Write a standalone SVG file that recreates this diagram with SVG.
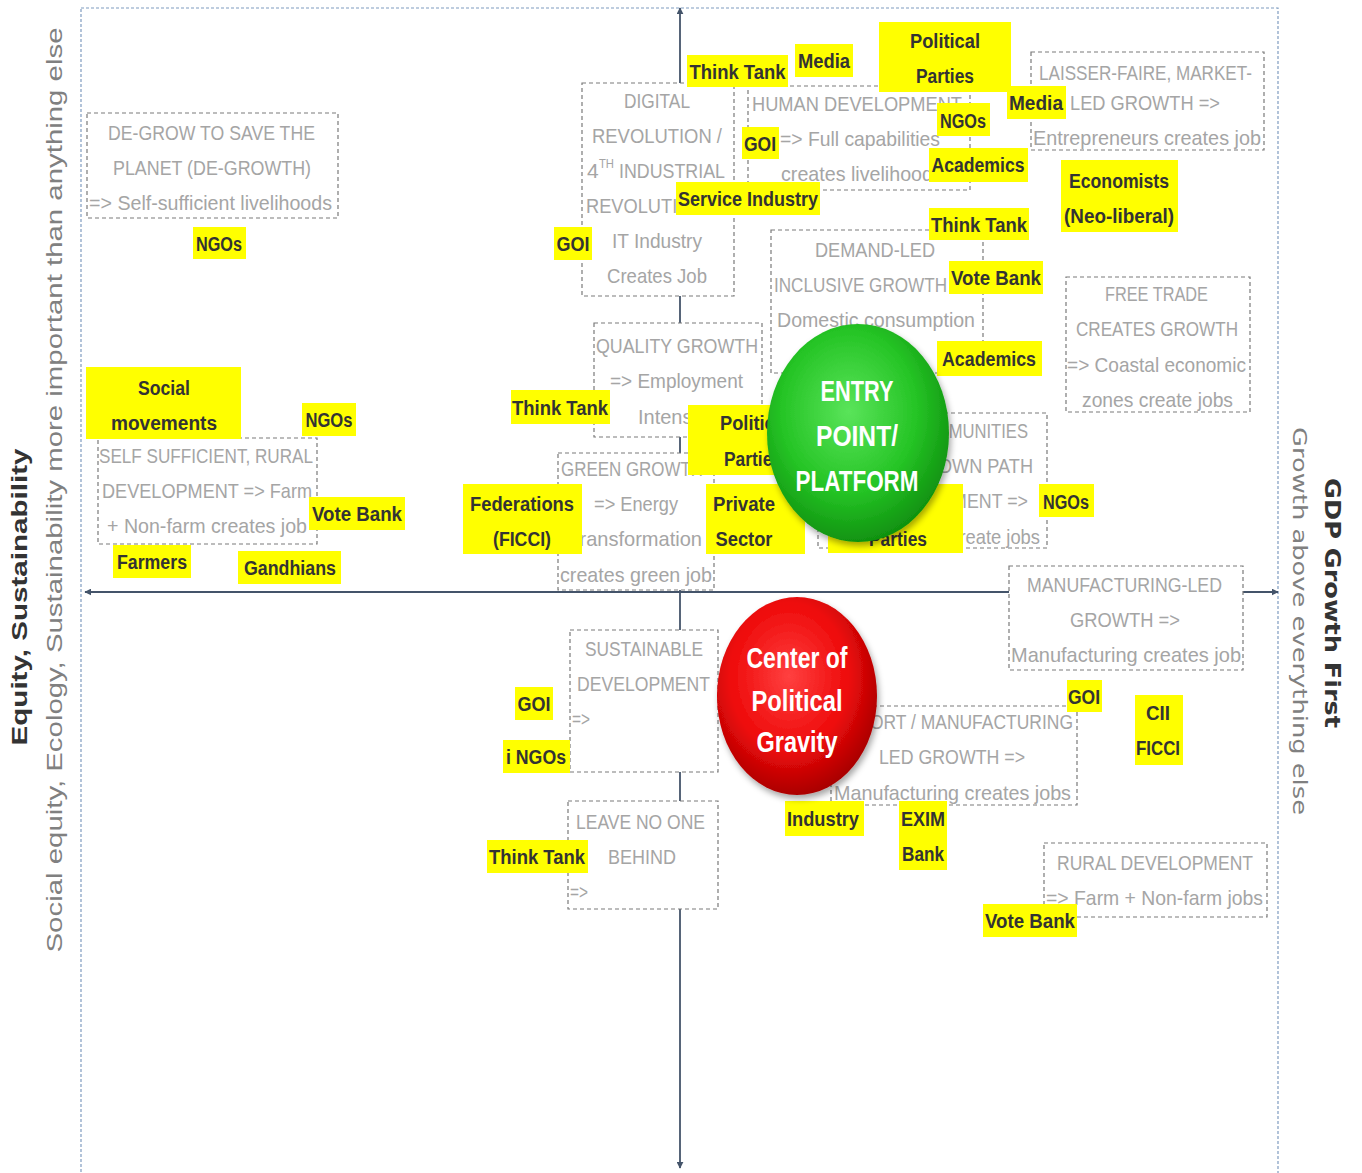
<svg xmlns="http://www.w3.org/2000/svg" width="1362" height="1173" viewBox="0 0 1362 1173">
<style>
.bx{fill:#fff;stroke:#7a7a7a;stroke-width:1.2;stroke-dasharray:4 3}
.bt{font-family:"Liberation Sans",Arial,sans-serif;font-size:21px;fill:#a5a5a5}
.sup{font-size:12px}
.lb{fill:#ffff00}
.lt{font-family:"Liberation Sans",Arial,sans-serif;font-size:20px;font-weight:bold;fill:#333}
.ct{font-family:"Liberation Sans",Arial,sans-serif;font-size:30px;font-weight:bold;fill:#fff}
.ax{stroke:#44546a;stroke-width:1.8;fill:none}
</style>
<defs>
<marker id="ah" viewBox="0 0 10 10" refX="9" refY="5" markerWidth="7" markerHeight="7" orient="auto-start-reverse" markerUnits="userSpaceOnUse">
<path d="M0,0 L10,5 L0,10 z" fill="#44546a"/>
</marker>
<radialGradient id="gg" cx="0.45" cy="0.4" r="0.62">
<stop offset="0" stop-color="#5ae45a"/><stop offset="0.6" stop-color="#25c425"/><stop offset="1" stop-color="#0f8f0f"/>
</radialGradient>
<radialGradient id="rg" cx="0.45" cy="0.4" r="0.62">
<stop offset="0" stop-color="#ff4040"/><stop offset="0.6" stop-color="#ee0a0a"/><stop offset="1" stop-color="#a50000"/>
</radialGradient>
<filter id="sh" x="-20%" y="-20%" width="140%" height="140%">
<feDropShadow dx="2" dy="4" stdDeviation="3" flood-color="#000" flood-opacity="0.35"/>
</filter>
</defs>
<rect width="1362" height="1173" fill="#fff"/>
<rect x="81" y="8" width="1197" height="1190" fill="none" stroke="#7f9cc0" stroke-width="1.2" stroke-dasharray="3 2"/>

<g id="axis-titles">
<text transform="translate(27,597) rotate(-90)" x="-148.5" y="0" textLength="297" lengthAdjust="spacingAndGlyphs" font-family="Liberation Sans, Arial, sans-serif" font-size="22" font-weight="bold" fill="#333">Equity, Sustainability</text>
<text transform="translate(62,490) rotate(-90)" x="-462.5" y="0" textLength="925" lengthAdjust="spacingAndGlyphs" font-family="Liberation Sans, Arial, sans-serif" font-size="22" fill="#808080">Social equity, Ecology, Sustainability more important than anything else</text>
<text transform="translate(1325,603) rotate(90)" x="-125" y="0" textLength="250" lengthAdjust="spacingAndGlyphs" font-family="DejaVu Sans, Verdana, sans-serif" font-size="21" font-weight="bold" fill="#333">GDP Growth First</text>
<text transform="translate(1293,621) rotate(90)" x="-194" y="0" textLength="388" lengthAdjust="spacingAndGlyphs" font-family="DejaVu Sans, Verdana, sans-serif" font-size="20" fill="#808080">Growth above everything else</text>
</g>

<g id="connectors">
<line class="ax" x1="680" y1="1168" x2="680" y2="8" marker-start="url(#ah)" marker-end="url(#ah)"/>
<line class="ax" x1="85" y1="592" x2="1278" y2="592" marker-start="url(#ah)" marker-end="url(#ah)"/>
</g>

<g id="box-degrow">
<rect class="bx" x="87" y="113" width="251" height="105"/>
<text class="bt" x="108" y="140" textLength="207" lengthAdjust="spacingAndGlyphs">DE-GROW TO SAVE  THE</text>
<text class="bt" x="113" y="175" textLength="198" lengthAdjust="spacingAndGlyphs">PLANET (DE-GROWTH)</text>
<text class="bt" x="89" y="210" textLength="243" lengthAdjust="spacingAndGlyphs">=&gt; Self-sufficient livelihoods</text>
</g>

<g id="box-digital">
<rect class="bx" x="582" y="83" width="152" height="213"/>
<text class="bt" x="624" y="108" textLength="66" lengthAdjust="spacingAndGlyphs">DIGITAL</text>
<text class="bt" x="592" y="143" textLength="130" lengthAdjust="spacingAndGlyphs">REVOLUTION /</text>
<text class="bt" x="587" y="178">4</text>
<text class="bt sup" x="599" y="168" textLength="15" lengthAdjust="spacingAndGlyphs">TH</text>
<text class="bt" x="619" y="178" textLength="106" lengthAdjust="spacingAndGlyphs">INDUSTRIAL</text>
<text class="bt" x="586" y="213" textLength="145" lengthAdjust="spacingAndGlyphs">REVOLUTION =&gt;</text>
<text class="bt" x="612" y="248" textLength="90" lengthAdjust="spacingAndGlyphs">IT Industry</text>
<text class="bt" x="607" y="283" textLength="100" lengthAdjust="spacingAndGlyphs">Creates Job</text>
</g>

<g id="box-human">
<rect class="bx" x="748" y="86" width="222" height="104"/>
<text class="bt" x="752" y="111" textLength="210" lengthAdjust="spacingAndGlyphs">HUMAN DEVELOPMENT</text>
<text class="bt" x="780" y="146" textLength="160" lengthAdjust="spacingAndGlyphs">=&gt;  Full capabilities</text>
<text class="bt" x="781" y="181" textLength="152" lengthAdjust="spacingAndGlyphs">creates livelihood</text>
</g>

<g id="box-laisser">
<rect class="bx" x="1031" y="52" width="233" height="98"/>
<text class="bt" x="1039" y="80" textLength="213" lengthAdjust="spacingAndGlyphs">LAISSER-FAIRE, MARKET-</text>
<text class="bt" x="1070" y="110" textLength="150" lengthAdjust="spacingAndGlyphs">LED GROWTH  =&gt;</text>
<text class="bt" x="1033" y="145" textLength="228" lengthAdjust="spacingAndGlyphs">Entrepreneurs  creates job</text>
</g>

<g id="box-demand">
<rect class="bx" x="771" y="230" width="212" height="143"/>
<text class="bt" x="815" y="257" textLength="120" lengthAdjust="spacingAndGlyphs">DEMAND-LED</text>
<text class="bt" x="774" y="292" textLength="173" lengthAdjust="spacingAndGlyphs">INCLUSIVE GROWTH</text>
<text class="bt" x="777" y="327" textLength="198" lengthAdjust="spacingAndGlyphs">Domestic consumption</text>
</g>

<g id="box-free-trade">
<rect class="bx" x="1066" y="277" width="184" height="135"/>
<text class="bt" x="1105" y="301" textLength="103" lengthAdjust="spacingAndGlyphs">FREE TRADE</text>
<text class="bt" x="1076" y="336" textLength="162" lengthAdjust="spacingAndGlyphs">CREATES GROWTH</text>
<text class="bt" x="1067" y="372" textLength="179" lengthAdjust="spacingAndGlyphs">=&gt; Coastal economic</text>
<text class="bt" x="1082" y="407" textLength="151" lengthAdjust="spacingAndGlyphs">zones create jobs</text>
</g>

<g id="box-quality">
<rect class="bx" x="594" y="323" width="168" height="114"/>
<text class="bt" x="596" y="353" textLength="162" lengthAdjust="spacingAndGlyphs">QUALITY GROWTH</text>
<text class="bt" x="610" y="388" textLength="133" lengthAdjust="spacingAndGlyphs">=&gt; Employment</text>
<text class="bt" x="638" y="424" textLength="80" lengthAdjust="spacingAndGlyphs">Intensive</text>
</g>

<g id="box-self">
<rect class="bx" x="98" y="438" width="219" height="106"/>
<text class="bt" x="99" y="463" textLength="214" lengthAdjust="spacingAndGlyphs">SELF SUFFICIENT, RURAL</text>
<text class="bt" x="102" y="498" textLength="210" lengthAdjust="spacingAndGlyphs">DEVELOPMENT =&gt; Farm</text>
<text class="bt" x="107" y="533" textLength="200" lengthAdjust="spacingAndGlyphs">+ Non-farm creates job</text>
</g>

<g id="box-green">
<rect class="bx" x="558" y="453" width="156" height="137"/>
<text class="bt" x="561" y="476" textLength="142" lengthAdjust="spacingAndGlyphs">GREEN GROWTH</text>
<text class="bt" x="594" y="511" textLength="84" lengthAdjust="spacingAndGlyphs">=&gt; Energy</text>
<text class="bt" x="568" y="546" textLength="134" lengthAdjust="spacingAndGlyphs">Transformation</text>
<text class="bt" x="560" y="582" textLength="152" lengthAdjust="spacingAndGlyphs">creates green job</text>
</g>

<g id="box-communities">
<rect class="bx" x="818" y="413" width="229" height="135"/>
<text class="bt" x="910" y="438" textLength="118" lengthAdjust="spacingAndGlyphs">COMMUNITIES</text>
<text class="bt" x="938" y="473" textLength="95" lengthAdjust="spacingAndGlyphs">OWN PATH</text>
<text class="bt" x="868" y="508" textLength="160" lengthAdjust="spacingAndGlyphs">DEVELOPMENT =&gt;</text>
<text class="bt" x="838" y="544" textLength="202" lengthAdjust="spacingAndGlyphs">Communities create jobs</text>
</g>

<g id="box-manufacturing">
<rect class="bx" x="1009" y="566" width="234" height="104"/>
<text class="bt" x="1027" y="592" textLength="195" lengthAdjust="spacingAndGlyphs">MANUFACTURING-LED</text>
<text class="bt" x="1070" y="627" textLength="110" lengthAdjust="spacingAndGlyphs">GROWTH =&gt;</text>
<text class="bt" x="1011" y="662" textLength="230" lengthAdjust="spacingAndGlyphs">Manufacturing  creates job</text>
</g>

<g id="box-export">
<rect class="bx" x="831" y="706" width="246" height="99"/>
<text class="bt" x="835" y="729" textLength="238" lengthAdjust="spacingAndGlyphs">EXPORT / MANUFACTURING</text>
<text class="bt" x="879" y="764" textLength="146" lengthAdjust="spacingAndGlyphs">LED GROWTH =&gt;</text>
<text class="bt" x="834" y="800" textLength="237" lengthAdjust="spacingAndGlyphs">Manufacturing  creates jobs</text>
</g>

<g id="box-sustainable">
<rect class="bx" x="570" y="630" width="148" height="142"/>
<text class="bt" x="585" y="656" textLength="118" lengthAdjust="spacingAndGlyphs">SUSTAINABLE</text>
<text class="bt" x="577" y="691" textLength="133" lengthAdjust="spacingAndGlyphs">DEVELOPMENT</text>
<text class="bt" x="572" y="726" textLength="18" lengthAdjust="spacingAndGlyphs">=&gt;</text>
</g>

<g id="box-leave">
<rect class="bx" x="568" y="801" width="150" height="108"/>
<text class="bt" x="576" y="829" textLength="129" lengthAdjust="spacingAndGlyphs">LEAVE NO ONE</text>
<text class="bt" x="608" y="864" textLength="68" lengthAdjust="spacingAndGlyphs">BEHIND</text>
<text class="bt" x="570" y="899" textLength="18" lengthAdjust="spacingAndGlyphs">=&gt;</text>
</g>

<g id="box-rural">
<rect class="bx" x="1044" y="843" width="223" height="74"/>
<text class="bt" x="1057" y="870" textLength="196" lengthAdjust="spacingAndGlyphs">RURAL DEVELOPMENT</text>
<text class="bt" x="1046" y="905" textLength="217" lengthAdjust="spacingAndGlyphs">=&gt; Farm + Non-farm jobs</text>
</g>

<g id="label-thinktank-1"><rect class="lb" x="687" y="55" width="101" height="32"/><text class="lt" x="689.5" y="79" textLength="96" lengthAdjust="spacingAndGlyphs">Think Tank</text></g>
<g id="label-media-1"><rect class="lb" x="795" y="44" width="58" height="33"/><text class="lt" x="798" y="68" textLength="52" lengthAdjust="spacingAndGlyphs">Media</text></g>
<g id="label-parties-1"><rect class="lb" x="879" y="22" width="132" height="70"/><text class="lt" x="910" y="48" textLength="70" lengthAdjust="spacingAndGlyphs">Political</text><text class="lt" x="916" y="83" textLength="58" lengthAdjust="spacingAndGlyphs">Parties</text></g>
<g id="label-media-2"><rect class="lb" x="1007" y="86" width="59" height="33"/><text class="lt" x="1009" y="110" textLength="54" lengthAdjust="spacingAndGlyphs">Media</text></g>
<g id="label-ngos-1"><rect class="lb" x="937" y="103" width="53" height="33"/><text class="lt" x="940" y="128" textLength="46" lengthAdjust="spacingAndGlyphs">NGOs</text></g>
<g id="label-goi-1"><rect class="lb" x="742" y="127" width="37" height="32"/><text class="lt" x="744" y="151" textLength="32" lengthAdjust="spacingAndGlyphs">GOI</text></g>
<g id="label-academics-1"><rect class="lb" x="929" y="148" width="99" height="34"/><text class="lt" x="931.5" y="172" textLength="93" lengthAdjust="spacingAndGlyphs">Academics</text></g>
<g id="label-economists"><rect class="lb" x="1061" y="160" width="117" height="72"/><text class="lt" x="1069" y="188" textLength="100" lengthAdjust="spacingAndGlyphs">Economists</text><text class="lt" x="1064" y="223" textLength="110" lengthAdjust="spacingAndGlyphs">(Neo-liberal)</text></g>
<g id="label-service"><rect class="lb" x="676" y="182" width="144" height="33"/><text class="lt" x="678" y="206" textLength="140" lengthAdjust="spacingAndGlyphs">Service Industry</text></g>
<g id="label-thinktank-2"><rect class="lb" x="929" y="208" width="100" height="32"/><text class="lt" x="931" y="232" textLength="96" lengthAdjust="spacingAndGlyphs">Think Tank</text></g>
<g id="label-goi-2"><rect class="lb" x="554" y="227" width="38" height="33"/><text class="lt" x="556.5" y="251" textLength="33" lengthAdjust="spacingAndGlyphs">GOI</text></g>
<g id="label-ngos-2"><rect class="lb" x="193" y="227" width="53" height="32"/><text class="lt" x="196" y="251" textLength="46" lengthAdjust="spacingAndGlyphs">NGOs</text></g>
<g id="label-votebank-1"><rect class="lb" x="949" y="261" width="94" height="33"/><text class="lt" x="951" y="285" textLength="90" lengthAdjust="spacingAndGlyphs">Vote Bank</text></g>
<g id="label-academics-2"><rect class="lb" x="937" y="341" width="105" height="35"/><text class="lt" x="942" y="366" textLength="94" lengthAdjust="spacingAndGlyphs">Academics</text></g>
<g id="label-social"><rect class="lb" x="86" y="367" width="155" height="72"/><text class="lt" x="138" y="395" textLength="52" lengthAdjust="spacingAndGlyphs">Social</text><text class="lt" x="111" y="430" textLength="106" lengthAdjust="spacingAndGlyphs">movements</text></g>
<g id="label-ngos-3"><rect class="lb" x="302" y="403" width="54" height="33"/><text class="lt" x="305.5" y="427" textLength="47" lengthAdjust="spacingAndGlyphs">NGOs</text></g>
<g id="label-thinktank-3"><rect class="lb" x="511" y="390" width="99" height="34"/><text class="lt" x="512" y="415" textLength="96" lengthAdjust="spacingAndGlyphs">Think Tank</text></g>
<g id="label-parties-2"><rect class="lb" x="688" y="405" width="140" height="70"/><text class="lt" x="720" y="430" textLength="70" lengthAdjust="spacingAndGlyphs">Political</text><text class="lt" x="724" y="466" textLength="58" lengthAdjust="spacingAndGlyphs">Parties</text></g>
<g id="label-federations"><rect class="lb" x="463" y="484" width="119" height="70"/><text class="lt" x="470" y="511" textLength="104" lengthAdjust="spacingAndGlyphs">Federations</text><text class="lt" x="493" y="546" textLength="58" lengthAdjust="spacingAndGlyphs">(FICCI)</text></g>
<g id="label-private"><rect class="lb" x="706" y="484" width="99" height="70"/><text class="lt" x="713" y="511" textLength="62" lengthAdjust="spacingAndGlyphs">Private</text><text class="lt" x="715.5" y="546" textLength="57" lengthAdjust="spacingAndGlyphs">Sector</text></g>
<g id="label-parties-3"><rect class="lb" x="828" y="484" width="135" height="69"/><text class="lt" x="869" y="546" textLength="58" lengthAdjust="spacingAndGlyphs">Parties</text></g>
<g id="label-ngos-4"><rect class="lb" x="1039" y="484" width="55" height="33"/><text class="lt" x="1043" y="509" textLength="46" lengthAdjust="spacingAndGlyphs">NGOs</text></g>
<g id="label-votebank-2"><rect class="lb" x="309" y="497" width="96" height="33"/><text class="lt" x="312" y="521" textLength="90" lengthAdjust="spacingAndGlyphs">Vote Bank</text></g>
<g id="label-farmers"><rect class="lb" x="113" y="545" width="78" height="33"/><text class="lt" x="117" y="569" textLength="70" lengthAdjust="spacingAndGlyphs">Farmers</text></g>
<g id="label-gandhians"><rect class="lb" x="238" y="551" width="103" height="33"/><text class="lt" x="244" y="575" textLength="92" lengthAdjust="spacingAndGlyphs">Gandhians</text></g>
<g id="label-goi-3"><rect class="lb" x="515" y="687" width="38" height="33"/><text class="lt" x="517.5" y="711" textLength="33" lengthAdjust="spacingAndGlyphs">GOI</text></g>
<g id="label-ingos"><rect class="lb" x="503" y="740" width="67" height="33"/><text class="lt" x="506" y="764" textLength="60" lengthAdjust="spacingAndGlyphs">i NGOs</text></g>
<g id="label-goi-4"><rect class="lb" x="1067" y="680" width="35" height="32"/><text class="lt" x="1068" y="704" textLength="32" lengthAdjust="spacingAndGlyphs">GOI</text></g>
<g id="label-cii"><rect class="lb" x="1135" y="695" width="48" height="70"/><text class="lt" x="1146" y="720" textLength="24" lengthAdjust="spacingAndGlyphs">CII</text><text class="lt" x="1136" y="755" textLength="44" lengthAdjust="spacingAndGlyphs">FICCI</text></g>
<g id="label-industry"><rect class="lb" x="785" y="801" width="79" height="35"/><text class="lt" x="787" y="826" textLength="72" lengthAdjust="spacingAndGlyphs">Industry</text></g>
<g id="label-exim"><rect class="lb" x="899" y="801" width="48" height="69"/><text class="lt" x="901" y="826" textLength="44" lengthAdjust="spacingAndGlyphs">EXIM</text><text class="lt" x="902" y="861" textLength="42" lengthAdjust="spacingAndGlyphs">Bank</text></g>
<g id="label-thinktank-4"><rect class="lb" x="487" y="840" width="101" height="33"/><text class="lt" x="489" y="864" textLength="96" lengthAdjust="spacingAndGlyphs">Think Tank</text></g>
<g id="label-votebank-3"><rect class="lb" x="983" y="904" width="94" height="33"/><text class="lt" x="985" y="928" textLength="90" lengthAdjust="spacingAndGlyphs">Vote Bank</text></g>

<g id="entry-point">
<ellipse cx="858" cy="433" rx="91" ry="109" fill="url(#gg)" filter="url(#sh)"/>
<text class="ct" x="820.5" y="401" textLength="73" lengthAdjust="spacingAndGlyphs">ENTRY</text>
<text class="ct" x="816" y="446" textLength="82" lengthAdjust="spacingAndGlyphs">POINT/</text>
<text class="ct" x="795.5" y="491" textLength="123" lengthAdjust="spacingAndGlyphs">PLATFORM</text>
</g>

<g id="center-of-gravity">
<ellipse cx="797" cy="696" rx="80" ry="99" fill="url(#rg)" filter="url(#sh)"/>
<text class="ct" x="746.5" y="668" textLength="101" lengthAdjust="spacingAndGlyphs">Center of</text>
<text class="ct" x="751.5" y="711" textLength="91" lengthAdjust="spacingAndGlyphs">Political</text>
<text class="ct" x="756.5" y="752" textLength="81" lengthAdjust="spacingAndGlyphs">Gravity</text>
</g>
</svg>
